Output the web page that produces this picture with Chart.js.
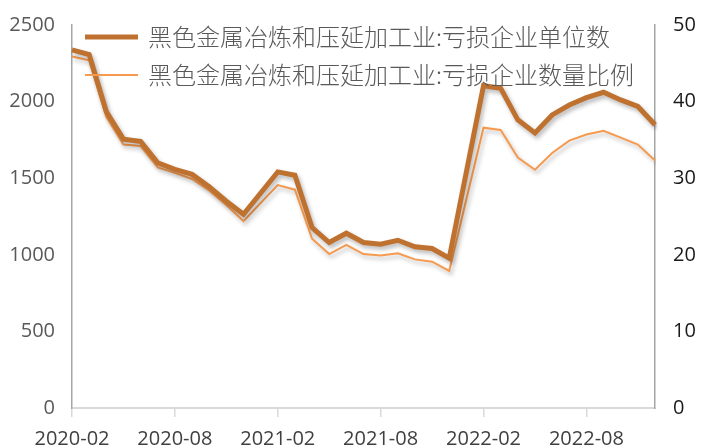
<!DOCTYPE html>
<html lang="zh">
<head>
  <meta charset="UTF-8">
  <title>黑色金属冶炼和压延加工业 亏损企业</title>
  <style>
    html, body {
      margin: 0;
      padding: 0;
      background: #ffffff;
    }
    #chartContainer {
      position: relative;
      width: 701px;
      height: 448px;
    }
  </style>
  <script src="https://cdn.jsdelivr.net/npm/chart.js"></script>
</head>
<body>
  <div id="chartContainer">
    <canvas id="chartCanvas"></canvas>
  </div>

  <script>
    // months from 2020-02 to 2022-12 (January has no data, gaps are bridged)
    const months = [
      '2020-02', '2020-03', '2020-04', '2020-05', '2020-06', '2020-07', '2020-08', '2020-09', '2020-10', '2020-11', '2020-12',
      '2021-01', '2021-02', '2021-03', '2021-04', '2021-05', '2021-06', '2021-07', '2021-08', '2021-09', '2021-10', '2021-11', '2021-12',
      '2022-01', '2022-02', '2022-03', '2022-04', '2022-05', '2022-06', '2022-07', '2022-08', '2022-09', '2022-10', '2022-11', '2022-12'
    ];

    // 亏损企业单位数 (left axis)
    const lossUnits = [
      2338, 2307, 1935, 1755, 1740, 1600, 1558, 1525, 1445, 1350, 1264,
      null, 1541, 1519, 1178, 1080, 1141, 1080, 1069, 1095, 1052, 1041, 978,
      null, 2104, 2087, 1881, 1795, 1913, 1978, 2026, 2061, 2011, 1968, 1849
    ];

    // 亏损企业数量比例 (right axis, %)
    const lossRatio = [
      45.9, 45.4, 38.0, 34.4, 34.2, 31.4, 30.7, 29.9, 28.4, 26.5, 24.4,
      null, 29.1, 28.5, 22.1, 20.1, 21.3, 20.1, 19.9, 20.2, 19.4, 19.1, 17.9,
      null, 36.6, 36.3, 32.7, 31.1, 33.3, 34.9, 35.7, 36.2, 35.3, 34.4, 32.3
    ];

    const seriesNames = [
      '黑色金属冶炼和压延加工业:亏损企业单位数',
      '黑色金属冶炼和压延加工业:亏损企业数量比例'
    ];

    const leftTicks = [0, 500, 1000, 1500, 2000, 2500];
    const rightTicks = [0, 10, 20, 30, 40, 50];

    const thickColor = '#bf7230';
    const thinColor = '#f59a4e';
    const numFont = '"Open Sans", "Liberation Sans", sans-serif';

    // soft shadow under the lines, like the office chart
    const shadowPlugin = {
      id: 'lineShadow',
      beforeDatasetDraw(chart) {
        const ctx = chart.ctx;
        ctx.save();
        ctx.shadowColor = 'rgba(0,0,0,0.28)';
        ctx.shadowBlur = 4;
        ctx.shadowOffsetX = 2;
        ctx.shadowOffsetY = 3;
      },
      afterDatasetDraw(chart) {
        chart.ctx.restore();
      }
    };

    // legend drawn inside the plot, top left
    const insideLegend = {
      id: 'insideLegend',
      afterDraw(chart) {
        const ctx = chart.ctx;
        const rows = [
          { y: 37, width: 5, color: thickColor, text: seriesNames[0] },
          { y: 75, width: 2, color: thinColor, text: seriesNames[1] }
        ];
        ctx.save();
        ctx.font = '300 24px "Noto Sans CJK SC", sans-serif';
        ctx.textBaseline = 'middle';
        ctx.fillStyle = '#595959';
        rows.forEach(r => {
          ctx.beginPath();
          ctx.strokeStyle = r.color;
          ctx.lineWidth = r.width;
          ctx.moveTo(85, r.y);
          ctx.lineTo(138, r.y);
          ctx.stroke();
          ctx.fillText(r.text, 148, r.y);
        });
        ctx.restore();
      }
    };

    const ctx = document.getElementById('chartCanvas').getContext('2d');

    new Chart(ctx, {
      type: 'line',
      data: {
        labels: months,
        datasets: [
          {
            label: seriesNames[0],
            data: lossUnits,
            yAxisID: 'y',
            borderColor: thickColor,
            borderWidth: 5,
            pointRadius: 0,
            tension: 0,
            spanGaps: true
          },
          {
            label: seriesNames[1],
            data: lossRatio,
            yAxisID: 'y1',
            borderColor: thinColor,
            borderWidth: 2,
            pointRadius: 0,
            tension: 0,
            spanGaps: true
          }
        ]
      },
      plugins: [shadowPlugin, insideLegend],
      options: {
        responsive: true,
        maintainAspectRatio: false,
        animation: false,
        layout: {
          padding: { top: 25, left: 0, right: 0, bottom: 0 }
        },
        plugins: {
          legend: { display: false },
          tooltip: { enabled: false }
        },
        scales: {
          x: {
            offset: false,
            afterFit(scale) { scale.height = 40; },
            grid: {
              drawOnChartArea: false,
              drawTicks: true,
              tickLength: 9,
              color: '#d9d9d9',
              lineWidth: 1.5
            },
            border: { display: true, color: '#d9d9d9', width: 2 },
            ticks: {
              autoSkip: false,
              maxRotation: 0,
              padding: 10,
              color: '#404040',
              font: { family: numFont, size: 20 },
              callback(value, index) {
                return index % 6 === 0 ? months[index] : null;
              }
            }
          },
          y: {
            position: 'left',
            min: 0,
            max: 2500,
            afterFit(scale) { scale.width = 72; },
            afterBuildTicks(scale) {
              scale.ticks = leftTicks.map(v => ({ value: v }));
            },
            grid: { display: false },
            border: { display: true, color: '#a6a6a6', width: 1.5 },
            ticks: {
              padding: 9,
              color: '#595959',
              font: { family: numFont, size: 20 },
              callback(value) { return String(value); }
            }
          },
          y1: {
            position: 'right',
            min: 0,
            max: 50,
            afterFit(scale) { scale.width = 46; },
            afterBuildTicks(scale) {
              scale.ticks = rightTicks.map(v => ({ value: v }));
            },
            grid: { display: false },
            border: { display: true, color: '#a6a6a6', width: 1.5 },
            ticks: {
              padding: 10,
              color: '#1a1a1a',
              font: { family: numFont, size: 20 },
              callback(value) { return String(value); }
            }
          }
        }
      }
    });
  </script>
</body>
</html>
